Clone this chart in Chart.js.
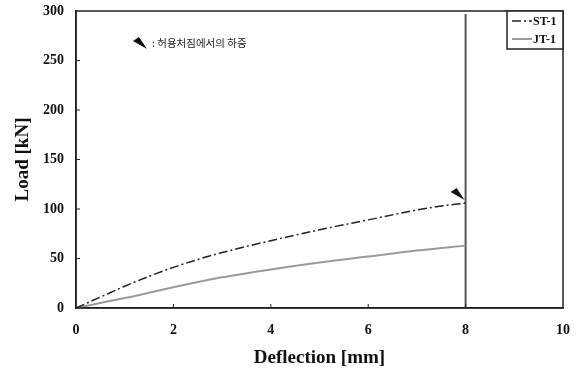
<!DOCTYPE html>
<html>
<head>
<meta charset="utf-8">
<script src="https://cdn.jsdelivr.net/npm/chart.js@4.4.1/dist/chart.umd.min.js"></script>
<style>
  html, body { margin: 0; padding: 0; background: #fff; }
  #wrap { width: 579px; height: 373px; position: relative; }
</style>
</head>
<body>
<div id="wrap"><canvas id="loadChart"></canvas></div>
<script>
// --- data ---
const stDeflection = [0, 0.5, 1, 1.5, 2, 2.5, 3, 4, 5, 6, 7, 7.5, 8];
const stLoad = [0, 11, 22, 32, 41, 49, 56, 68, 79, 89, 99, 103, 106];
const jtDeflection = [0, 1, 2, 3, 4, 5, 6, 7, 8];
const jtLoad = [0, 10, 21, 31, 39, 46, 52, 58, 63];
const limitDeflection = [8, 8];
const limitLoad = [0, 297];
const allowPoint = { x: 8, y: 106 }; // load at allowable deflection
const seriesLabels = ["ST-1", "JT-1"];
const noteText = ": 허용처짐에서의 하중";

const serif = "'Liberation Serif', 'Times New Roman', serif";

function toPoints(xs, ys) {
  return xs.map((x, i) => ({ x: x, y: ys[i] }));
}

// Wedge marker pointing down-right, tip at (tx, ty)
function drawWedge(ctx, tx, ty) {
  ctx.save();
  ctx.fillStyle = "#111";
  ctx.beginPath();
  ctx.moveTo(tx, ty);
  ctx.lineTo(tx - 14, ty - 8);
  ctx.lineTo(tx - 8, ty - 12);
  ctx.closePath();
  ctx.fill();
  ctx.restore();
}

const extrasPlugin = {
  id: "extras",
  afterDraw(chart) {
    const { ctx, chartArea: a, scales } = chart;
    const xs = scales.x, ys = scales.y;
    ctx.save();

    // plot frame
    ctx.strokeStyle = "#222";
    ctx.lineWidth = 1.5;
    ctx.strokeRect(a.left, a.top, a.right - a.left, a.bottom - a.top);

    // inner tick marks
    ctx.lineWidth = 1;
    [2, 4, 6, 8].forEach((v) => {
      const px = xs.getPixelForValue(v);
      ctx.beginPath();
      ctx.moveTo(px, a.bottom);
      ctx.lineTo(px, a.bottom - 4);
      ctx.stroke();
    });
    [50, 100, 150, 200, 250].forEach((v) => {
      const py = ys.getPixelForValue(v);
      ctx.beginPath();
      ctx.moveTo(a.left, py);
      ctx.lineTo(a.left + 4, py);
      ctx.stroke();
    });

    // arrow marker on ST-1 end point
    drawWedge(ctx, xs.getPixelForValue(allowPoint.x) - 1, ys.getPixelForValue(allowPoint.y) - 3);

    // note at top left
    drawWedge(ctx, 147, 49);
    ctx.fillStyle = "#222";
    ctx.font = "10.5px 'Noto Sans CJK KR', sans-serif";
    ctx.textBaseline = "middle";
    ctx.textAlign = "left";
    ctx.fillText(noteText, 152, 43);

    // legend box
    const lx = 507, ly = a.top, lw = a.right - 507, lh = 38;
    ctx.fillStyle = "#fff";
    ctx.fillRect(lx, ly, lw, lh);
    ctx.strokeStyle = "#222";
    ctx.lineWidth = 1.5;
    ctx.strokeRect(lx, ly, lw, lh);
    chart.data.datasets.slice(0, 2).forEach((ds, i) => {
      const cy = ly + 10 + i * 18;
      ctx.strokeStyle = ds.borderColor;
      ctx.lineWidth = ds.borderWidth;
      ctx.setLineDash(ds.borderDash || []);
      ctx.beginPath();
      ctx.moveTo(lx + 5, cy);
      ctx.lineTo(lx + 25, cy);
      ctx.stroke();
      ctx.setLineDash([]);
      ctx.fillStyle = "#111";
      ctx.font = "bold 12px " + serif;
      ctx.textAlign = "left";
      ctx.fillText(ds.label, lx + 26, cy + 1);
    });
    ctx.restore();
  },
};

new Chart(document.getElementById("loadChart").getContext("2d"), {
  type: "scatter",
  data: {
    datasets: [
      {
        label: seriesLabels[0],
        data: toPoints(stDeflection, stLoad),
        showLine: true,
        borderColor: "#222",
        borderWidth: 1.5,
        borderDash: [9, 3, 2, 3],
        pointRadius: 0,
        cubicInterpolationMode: "monotone",
      },
      {
        label: seriesLabels[1],
        data: toPoints(jtDeflection, jtLoad),
        showLine: true,
        borderColor: "#9a9a9a",
        borderWidth: 2,
        pointRadius: 0,
        cubicInterpolationMode: "monotone",
      },
      {
        label: "limit",
        data: toPoints(limitDeflection, limitLoad),
        showLine: true,
        borderColor: "#555",
        borderWidth: 2,
        pointRadius: 0,
      },
    ],
  },
  options: {
    responsive: true,
    maintainAspectRatio: false,
    animation: false,
    layout: { padding: { left: 0, right: 16, top: 11, bottom: 0 } },
    scales: {
      x: {
        min: 0,
        max: 10,
        ticks: {
          stepSize: 2,
          color: "#111",
          padding: 14,
          font: { family: serif, size: 14, weight: "bold" },
        },
        grid: { display: false, drawTicks: false },
        border: { display: true, color: "#222", width: 1.5 },
        title: {
          display: true,
          text: "Deflection [mm]",
          color: "#111",
          padding: { top: 2 },
          font: { family: serif, size: 19, weight: "bold" },
        },
        afterFit(scale) {
          scale.height = 65;
          scale.paddingLeft = 0;
          scale.paddingRight = 0;
        },
      },
      y: {
        min: 0,
        max: 300,
        ticks: {
          stepSize: 50,
          color: "#111",
          padding: 12,
          font: { family: serif, size: 14, weight: "bold" },
        },
        grid: { display: false, drawTicks: false },
        border: { display: true, color: "#222", width: 1.5 },
        title: {
          display: true,
          text: "Load [kN]",
          color: "#111",
          padding: { top: 12, bottom: 0 },
          font: { family: serif, size: 19, weight: "bold" },
        },
        afterFit(scale) {
          scale.width = 76;
          scale.paddingTop = 0;
          scale.paddingBottom = 0;
        },
      },
    },
    plugins: {
      legend: { display: false },
      tooltip: { enabled: false },
    },
  },
  plugins: [extrasPlugin],
});
</script>
</body>
</html>
